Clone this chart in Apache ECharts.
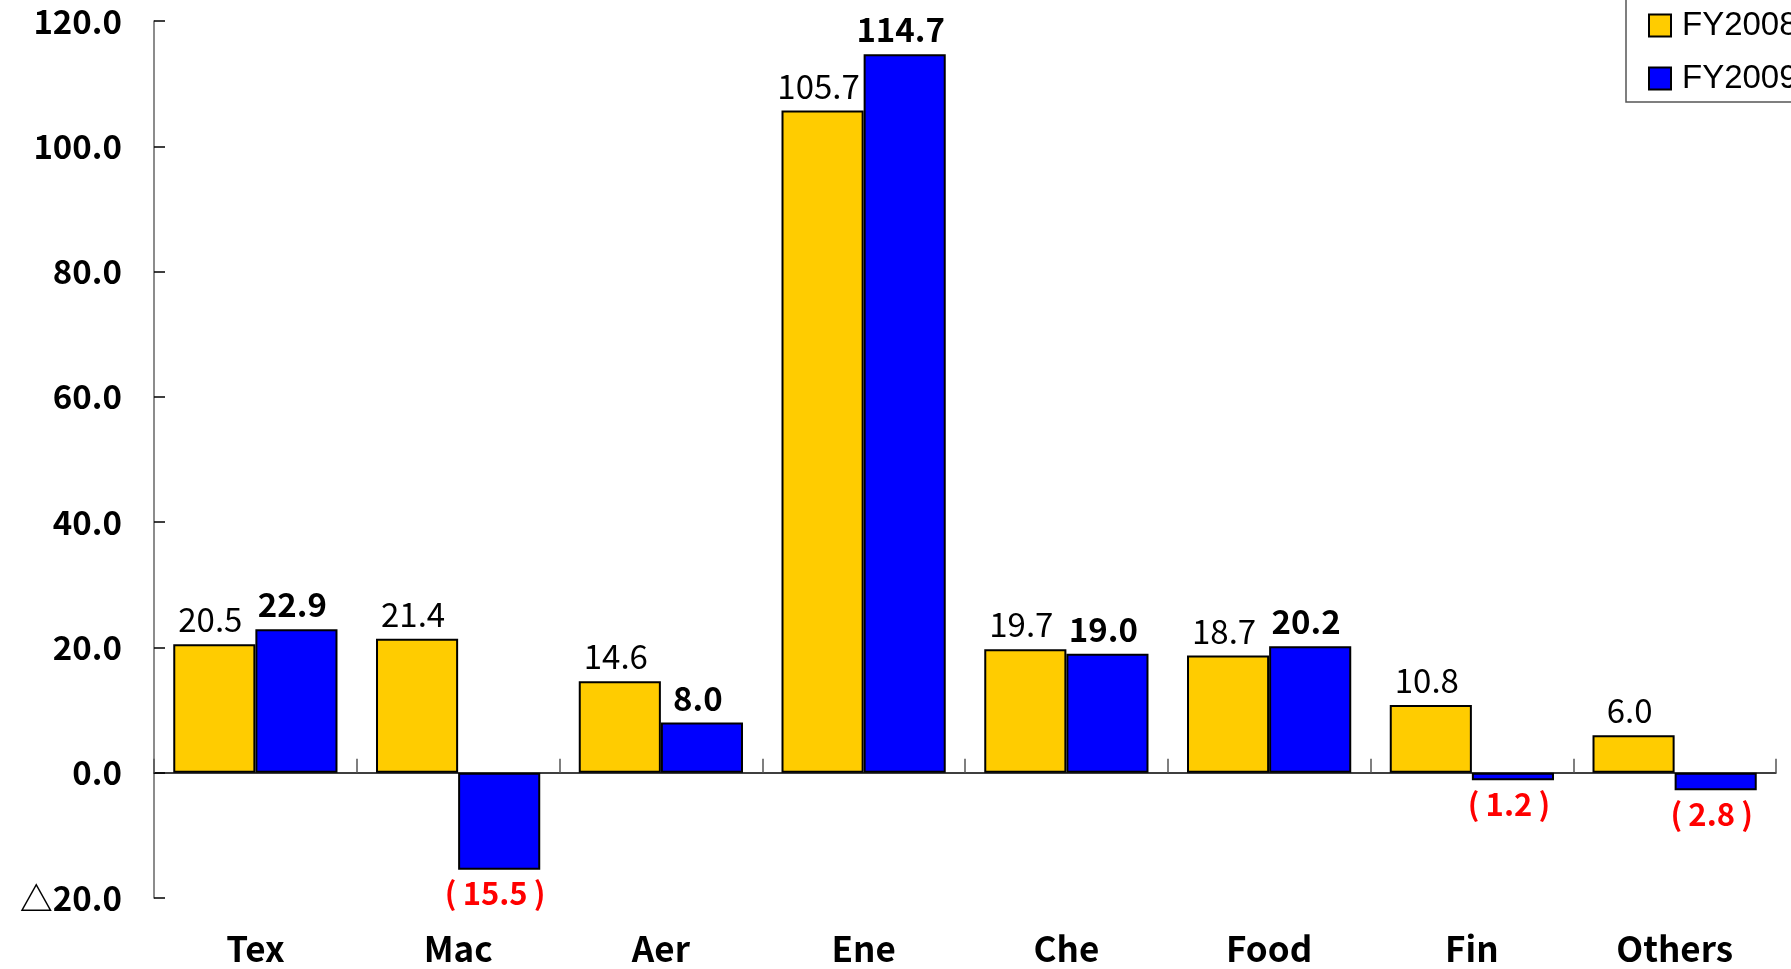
<!DOCTYPE html>
<html>
<head>
<meta charset="utf-8">
<script src="https://cdn.jsdelivr.net/npm/echarts@6/dist/echarts.min.js"></script>
<style>
html,body{margin:0;padding:0;background:#fff;}
#chart{width:1791px;height:969px;}
</style>
</head>
<body>
<div id="chart"></div>
<script>
var categories = ['Tex', 'Mac', 'Aer', 'Ene', 'Che', 'Food', 'Fin', 'Others'];
var seriesNames = ['FY2008', 'FY2009'];
var fy2008 = [20.5, 21.4, 14.6, 105.7, 19.7, 18.7, 10.8, 6.0];
var fy2009 = [22.9, -15.5, 8.0, 114.7, 19.0, 20.2, -1.2, -2.8];
var yMin = -20, yMax = 120, yStep = 20;

var FONT = '"Noto Sans CJK JP", "Noto Sans", sans-serif';

function fmtLabel(v) {
  return v < 0 ? '{neg|(\u2009' + Math.abs(v).toFixed(1) + '\u2009)}' : '{pos|' + v.toFixed(1) + '}';
}
function toItems(arr) {
  return arr.map(function (v) {
    return { value: v, label: v < 0 ? { position: 'bottom', distance: 8 } : { position: 'top', distance: 8 } };
  });
}

var chart = echarts.init(document.getElementById('chart'));
chart.setOption({
  backgroundColor: '#ffffff',
  animation: false,
  legend: {
    data: seriesNames,
    orient: 'vertical',
    left: 1626,
    top: -15,
    padding: [24, 30, 7, 22],
    icon: 'rect',
    itemWidth: 22,
    itemHeight: 22,
    itemGap: 20,
    borderColor: '#555555',
    borderWidth: 1.5,
    itemStyle: { borderColor: '#000', borderWidth: 2 },
    textStyle: { fontFamily: '"Liberation Sans", Arial, sans-serif', fontSize: 33, lineHeight: 22, color: '#000', padding: [0, 0, 0, 6] }
  },
  grid: { left: 154, right: 15, top: 21, bottom: 71, containLabel: false },
  xAxis: [
    {
      type: 'category',
      data: categories,
      position: 'bottom',
      axisLine: { show: false, onZero: false },
      axisTick: { show: false },
      axisLabel: { fontFamily: FONT, fontSize: 35, fontWeight: 'bold', color: '#000', margin: 33 }
    },
    {
      type: 'category',
      data: categories,
      position: 'bottom',
      axisLine: { show: true, onZero: true, lineStyle: { color: '#000', width: 1.5 } },
      axisTick: { show: true, inside: true, length: 14, lineStyle: { color: '#555', width: 1.5 } },
      axisLabel: { show: false }
    }
  ],
  yAxis: {
    type: 'value',
    min: yMin,
    max: yMax,
    interval: yStep,
    splitLine: { show: false },
    axisLine: { show: true, lineStyle: { color: '#666', width: 1.5 } },
    axisTick: { show: true, inside: true, length: 11, lineStyle: { color: '#000', width: 1.5 } },
    axisLabel: {
      fontFamily: FONT, fontSize: 33, fontWeight: 'bold', color: '#000', margin: 32,
      formatter: function (v) { return v < 0 ? '△' + Math.abs(v).toFixed(1) : v.toFixed(1); }
    }
  },
  series: [
    {
      name: seriesNames[0],
      type: 'bar',
      xAxisIndex: 0,
      data: toItems(fy2008),
      barGap: '0%',
      barCategoryGap: '19%',
      itemStyle: { color: '#FFCC00', borderColor: '#000', borderWidth: 2 },
      label: {
        show: true,
        offset: [-4, 0],
        formatter: function (p) { return fmtLabel(p.value); },
        rich: {
          pos: { fontFamily: FONT, fontSize: 33, color: '#000' },
          neg: { fontFamily: FONT, fontSize: 31, color: '#FF0000', fontWeight: 'bold' }
        }
      }
    },
    {
      name: seriesNames[1],
      type: 'bar',
      xAxisIndex: 0,
      data: toItems(fy2009),
      barGap: '0%',
      barCategoryGap: '19%',
      itemStyle: { color: '#0000FF', borderColor: '#000', borderWidth: 2 },
      label: {
        show: true,
        offset: [-4, 0],
        formatter: function (p) { return fmtLabel(p.value); },
        rich: {
          pos: { fontFamily: FONT, fontSize: 33, color: '#000', fontWeight: 'bold' },
          neg: { fontFamily: FONT, fontSize: 31, color: '#FF0000', fontWeight: 'bold' }
        }
      }
    }
  ]
});
</script>
</body>
</html>
